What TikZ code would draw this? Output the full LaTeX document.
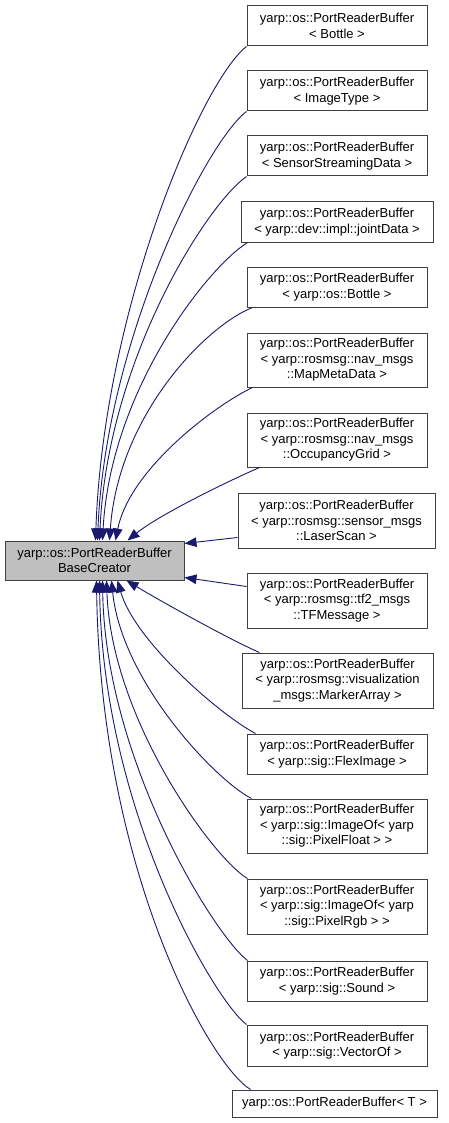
\documentclass[tikz,border=0pt]{standalone}
\usepackage{fontspec}
\setmainfont{Liberation Sans}
\usetikzlibrary{arrows.meta,calc}
\definecolor{edgeblue}{HTML}{191970}
\definecolor{boxline}{HTML}{404040}
\definecolor{basefill}{HTML}{BFBFBF}
\begin{document}
\begin{tikzpicture}[x=1pt,y=-1pt,
 cls/.style={draw=boxline, line width=1pt, fill=white, inner sep=0pt, align=center,
   font=\fontsize{13}{15.5}\selectfont, minimum width=180pt},
 two/.style={minimum height=40pt},
 three/.style={minimum height=55pt},
 inh/.style={draw=edgeblue, line width=0.9pt, -{Triangle[length=12pt,width=9.5pt]}}]
\useasboundingbox (0,0) rectangle (448,1123);
\fill[white] (0,0) rectangle (448,1123);

\node[cls,two] (n1) at (337,26) {yarp::os::PortReaderBuffer\\< Bottle >};
\node[cls,two] (n2) at (337,91) {yarp::os::PortReaderBuffer\\< ImageType >};
\node[cls,two] (n3) at (337,156) {yarp::os::PortReaderBuffer\\< SensorStreamingData >};
\node[cls,two,minimum width=192pt] (n4) at (337,222) {yarp::os::PortReaderBuffer\\< yarp::dev::impl::jointData >};
\node[cls,two] (n5) at (337,287) {yarp::os::PortReaderBuffer\\< yarp::os::Bottle >};
\node[cls,three,minimum height=54pt] (n6) at (337,360) {yarp::os::PortReaderBuffer\\< yarp::rosmsg::nav\_msgs\\::MapMetaData >};
\node[cls,three,minimum height=54pt] (n7) at (337,440) {yarp::os::PortReaderBuffer\\< yarp::rosmsg::nav\_msgs\\::OccupancyGrid >};
\node[cls,three,minimum width=197pt] (n8) at (336.5,520.5) {yarp::os::PortReaderBuffer\\< yarp::rosmsg::sensor\_msgs\\::LaserScan >};
\node[cls,three] (n9) at (337,600.5) {yarp::os::PortReaderBuffer\\< yarp::rosmsg::tf2\_msgs\\::TFMessage >};
\node[cls,three,minimum width=191pt] (n10) at (337.5,680.5) {yarp::os::PortReaderBuffer\\< yarp::rosmsg::visualization\\\_msgs::MarkerArray >};
\node[cls,two] (n11) at (337,754) {yarp::os::PortReaderBuffer\\< yarp::sig::FlexImage >};
\node[cls,three,minimum height=54pt] (n12) at (337,826) {yarp::os::PortReaderBuffer\\< yarp::sig::ImageOf< yarp\\::sig::PixelFloat > >};
\node[cls,three] (n13) at (337,906.5) {yarp::os::PortReaderBuffer\\< yarp::sig::ImageOf< yarp\\::sig::PixelRgb > >};
\node[cls,two] (n14) at (337,981) {yarp::os::PortReaderBuffer\\< yarp::sig::Sound >};
\node[cls,two,minimum height=41pt] (n15) at (337,1045.5) {yarp::os::PortReaderBuffer\\< yarp::sig::VectorOf >};
\node[cls,minimum width=205pt,minimum height=27pt] (n16) at (334.5,1103.5) {yarp::os::PortReaderBuffer< T >};

\node[cls,fill=basefill,minimum width=179pt,minimum height=39pt] (base) at (94.5,560.5) {yarp::os::PortReaderBuffer\\BaseCreator};

% upper children
\draw[inh] (n1.south west) .. controls +(-45,35) and +(8,-230) .. ($(base.north west)+(91,0)$);
\draw[inh] (n2.south west) .. controls +(-40,30) and +(8,-200) .. ($(base.north west)+(93,0)$);
\draw[inh] (n3.south west) .. controls +(-40,28) and +(8,-180) .. ($(base.north west)+(95,0)$);
\draw[inh] ($(n4.south west)+(7,0)$) .. controls +(-40,25) and +(8,-150) .. ($(base.north west)+(98,0)$);
\draw[inh] ($(n5.south west)+(6,0)$) .. controls +(-46,18) and +(9,-126) .. ($(base.north west)+(105,0)$);
\draw[inh] ($(n6.south west)+(6,0)$) .. controls +(-38,18) and +(14,-71) .. ($(base.north west)+(111,0)$);
\draw[inh] ($(n7.south west)+(13,0)$) .. controls +(-30,13) and +(32,-26) .. ($(base.north west)+(123,0)$);
% side children
\draw[inh] ($(n8.south west)+(0,-11)$) -- ($(base.north east)+(0,3)$);
\draw[inh] ($(n9.north west)+(0,14)$) -- ($(base.south east)+(0,-3)$);
% lower children
\draw[inh] ($(n10.north west)+(18,0)$) .. controls +(-30,-13) and +(33,20) .. ($(base.south west)+(122,0)$);
\draw[inh] ($(n11.north west)+(9,0)$) .. controls +(-36,-19) and +(17,60) .. ($(base.south west)+(113,0)$);
\draw[inh] ($(n12.north west)+(5,0)$) .. controls +(-37,-19) and +(10,100) .. ($(base.south west)+(107,0)$);
\draw[inh] ($(n13.north west)+(1,0)$) .. controls +(-33,-19) and +(5,140) .. ($(base.south west)+(102,0)$);
\draw[inh] ($(n14.north west)+(1,0)$) .. controls +(-33,-25) and +(3,180) .. ($(base.south west)+(98,0)$);
\draw[inh] (n15.north west) .. controls +(-32,-24) and +(3,230) .. ($(base.south west)+(95,0)$);
\draw[inh] ($(n16.north west)+(19,0)$) .. controls +(-41,-25) and +(4,290) .. ($(base.south west)+(92,0)$);
\end{tikzpicture}
\end{document}
